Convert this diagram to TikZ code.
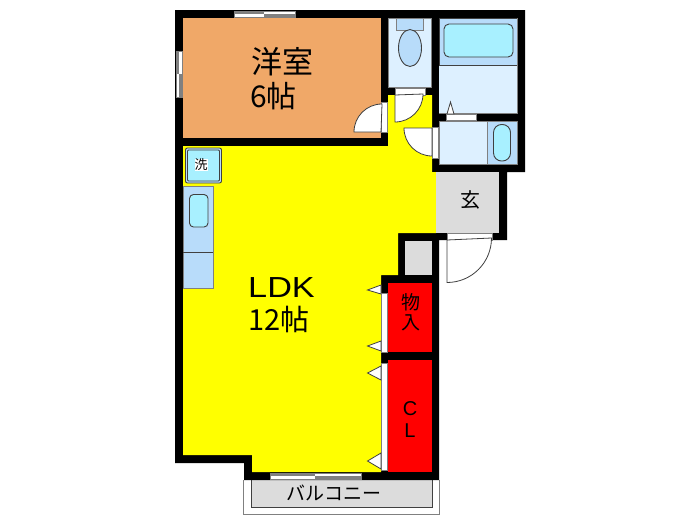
\documentclass[tikz,border=0pt]{standalone}
\usepackage{fontspec}
\setmainfont{Liberation Sans}
\newfontfamily\jpfont{Noto Sans CJK JP}
\definecolor{roomorange}{HTML}{F0A868}
\definecolor{ldkyellow}{HTML}{FFFF00}
\definecolor{closetred}{HTML}{FF0000}
\definecolor{wetlight}{HTML}{DDF0FF}
\definecolor{wetmid}{HTML}{B8DCFA}
\definecolor{tubcyan}{HTML}{A8F0FF}
\definecolor{floorgray}{HTML}{DCDCDC}
\definecolor{edgegray}{HTML}{404040}
\tikzset{
  fitting/.style={draw=edgegray,line width=0.9pt},
  doorleaf/.style={draw=edgegray,fill=white,line width=0.8pt},
  frame/.style={draw=gray,fill=white,line width=0.6pt},
  label/.style={inner sep=0pt,font=\jpfont,text=black}
}
\begin{document}
\begin{tikzpicture}[line join=miter,x=1pt,y=-1pt]
\useasboundingbox (0,0) rectangle (700,525);
% balcony
\draw[draw=gray,line width=1pt] (243,480)--(243,514)--(439.5,514)--(439.5,480);
\draw[fill=floorgray,draw=edgegray,line width=0.9pt] (251.5,480)--(251.5,507)--(432,507)--(432,480);
% walls
\fill (175,10)--(525,10)--(525,172)--(507,172)--(507,240)--(439,240)--(439,480)--(244,480)--(244,463)--(175,463)--cycle;
% rooms
\fill[roomorange] (183,18) rectangle (381,138);
\fill[ldkyellow] (183,146)--(388,146)--(388,95)--(432,95)--(432,172)--(436,172)--(436,233)--(398,233)--(398,275)--(381,275)--(381,472)--(252,472)--(252,455)--(183,455)--cycle;
\fill[wetlight] (388,18) rectangle (431.5,87);
\fill[wetlight] (439,18) rectangle (517,113);
\fill[wetlight] (439,121) rectangle (517,164);
\fill[floorgray] (436,172) rectangle (499,232.5);
\fill[floorgray] (405,241) rectangle (432,275);
\fill[closetred] (388,283) rectangle (431.5,352);
\fill[closetred] (388,360) rectangle (431.5,472);
% bath
\draw[fitting,fill=wetmid] (439,18) rectangle (517,65);
\draw[fitting,fill=tubcyan,rounded corners=5pt] (444,24) rectangle (513,57);
\draw[draw=gray,line width=0.6pt] (439,113)--(517,113)--(517,18);
% wash basin
\draw[draw=gray,line width=0.7pt] (439,121) rectangle (517,164);
\draw[draw=gray,fill=wetmid,line width=0.7pt] (487,121) rectangle (517,164);
\draw[fitting,fill=tubcyan,rounded corners=8pt] (493.5,124.5) rectangle (510.5,161);
% toilet
\draw[draw=gray,line width=0.6pt] (388,18) rectangle (431.5,87);
\draw[fill=wetmid,draw=gray,line width=0.7pt] (396,18) rectangle (423,30);
\draw[fitting,fill=wetmid] (410,48) ellipse (11.5 and 18.5);
% washer
\draw[fitting,fill=wetmid,rounded corners=2pt] (185.5,148) rectangle (221.5,183);
\draw[fitting,fill=tubcyan,rounded corners=1pt] (187.5,150) rectangle (219.5,181);
% kitchen
\draw[draw=gray,fill=wetmid,line width=0.7pt] (183,186) rectangle (213,288);
\draw[fitting] (183,252)--(213,252);
\draw[fitting,fill=tubcyan,rounded corners=4pt] (189.5,194.5) rectangle (208,227);
% windows
\foreach \xa/\xb/\xc/\ya in {234/264/295/11,270/315/361/473}{
  \draw[frame] (\xa,\ya) rectangle (\xc,\ya+6);
  \fill[gray] (\xa,\ya) rectangle (\xb,\ya+3);
  \fill[gray] (\xb,\ya+3) rectangle (\xc,\ya+6);
}
\draw[frame] (176,51) rectangle (182,97);
\fill[gray] (176,51) rectangle (179,74);
\fill[gray] (179,74) rectangle (182,97);
% doors
\draw[frame] (381,102) rectangle (387,132);
\draw[doorleaf] (381,132)--(354,132) arc[start angle=180,end angle=270,radius=28] --cycle;
\draw[frame] (395,88) rectangle (425,95);
\draw[doorleaf] (395,95)--(395,122) arc[start angle=90,end angle=0,radius=28] --cycle;
\draw[frame] (432,127) rectangle (438.5,158);
\draw[doorleaf] (432,128)--(404,128) arc[start angle=180,end angle=90,radius=28] --cycle;
\draw[frame] (446,114) rectangle (476.5,120);
\draw[doorleaf] (447,114)--(450.5,102)--(454,114)--cycle;
\draw[frame] (447,233) rectangle (492,240);
\draw[doorleaf] (447,240)--(447,282.5) arc[start angle=90,end angle=0,radius=44.5] --cycle;
\draw[frame] (381,293) rectangle (387.5,352);
\draw[frame] (381,363) rectangle (387.5,470);
\foreach \tipy/\ya/\yb in {290/285/294,346/341/351,373/366/380,461/453/469}
  \draw[doorleaf] (381,\ya)--(367.5,\tipy)--(381,\yb)--cycle;
% labels
\node[label,font=\jpfont\fontsize{31}{31}\selectfont] (yoshitsu) at (282.5,62) {洋室};
\node[label,font=\jpfont\fontsize{30}{30}\selectfont,anchor=west] (yoshitsusize) at (250,96) {6帖};
\node[label,font=\fontsize{29}{29}\selectfont,anchor=west,xscale=1.18] (ldk) at (248,287.5) {LDK};
\node[label,font=\jpfont\fontsize{29}{29}\selectfont,anchor=west] (ldksize) at (248,319) {12帖};
\node[label,font=\jpfont\fontsize{13}{13}\selectfont,fill=white] (sentaku) at (201,165) {洗};
\node[label,font=\jpfont\fontsize{20}{20}\selectfont] (genkan) at (470,200) {玄};
\node[label,font=\jpfont\fontsize{19}{19}\selectfont] (mono) at (411,302) {物};
\node[label,font=\jpfont\fontsize{19}{19}\selectfont] (iri) at (411,323) {入};
\node[label,font=\fontsize{20}{20}\selectfont] (cl) at (410,409) {C};
\node[label,font=\fontsize{20}{20}\selectfont] (cll) at (410,431) {L};
\node[label,font=\jpfont\fontsize{19}{19}\selectfont] (balcony) at (334,493) {バルコニー};
\end{tikzpicture}
\end{document}
